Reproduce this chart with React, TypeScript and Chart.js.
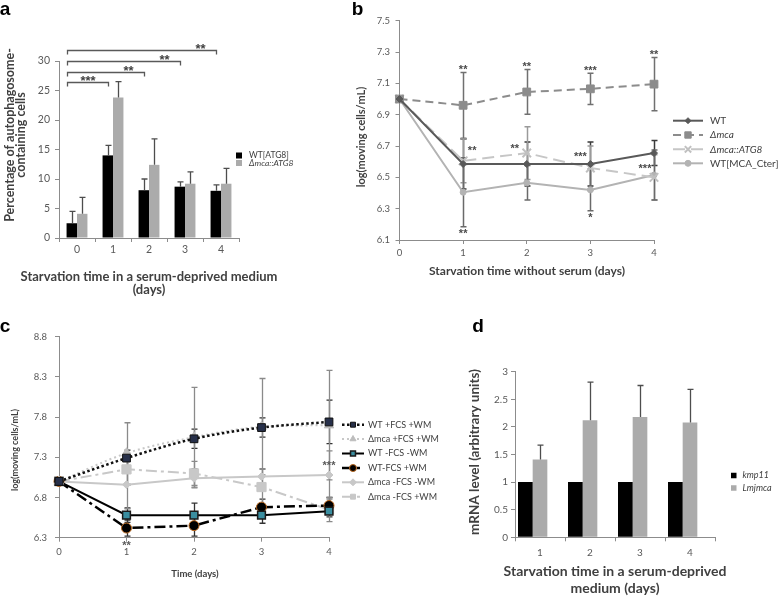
import React, { useEffect, useRef } from 'react';
import { Chart, registerables } from 'chart.js';

Chart.register(...registerables);

const W = 778;
const H = 597;
const FONT = 'Lato, "Open Sans", sans-serif';
const STARF = '"Liberation Sans", Arial, sans-serif';
const AX = '#8c8c8c';
const TICK = '#595959';
const TXT = '#404040';

// ---------- Panel a ----------
const aLabels = ['0', '1', '2', '3', '4'];
const aSeriesNames = ['WT[ATG8]', 'Δmca::ATG8'];
const aWT = [2.5, 14.0, 8.1, 8.7, 8.0];
const aWTErr = [2.0, 1.7, 1.9, 0.8, 1.0];
const aMca = [4.1, 23.8, 12.4, 9.2, 9.2];
const aMcaErr = [2.8, 2.7, 4.4, 2.0, 2.6];
const aBracketTo = [1, 2, 3, 4];
const aBracketLevel = [26.5, 28.2, 30.0, 31.9];
const aBracketStars = ['***', '**', '**', '**'];

// ---------- Panel b ----------
const bLabels = ['0', '1', '2', '3', '4'];
const bNames = ['WT', 'Δmca', 'Δmca::ATG8', 'WT[MCA_Cter]'];
const bWT = [7.0, 6.585, 6.585, 6.585, 6.655];
const bWTErr = [0, 0.16, 0.14, 0.14, 0.08];
const bMca = [7.0, 6.96, 7.045, 7.065, 7.095];
const bMcaErr = [0, 0.21, 0.143, 0.1, 0.17];
const bAtg = [7.0, 6.605, 6.655, 6.56, 6.5];
const bAtgErr = [0, 0.14, 0.168, 0.14, 0.145];
const bCter = [7.0, 6.405, 6.465, 6.42, 6.515];
const bCterErr = [0, 0.22, 0.11, 0.133, 0.16];
const bMcaStars = ['', '**', '**', '***', '**'];
const bAtgStars = ['', '**', '**', '***', '***'];
const bCterStars = ['', '**', '', '*', ''];

// ---------- Panel c ----------
const cLabels = ['0', '1', '2', '3', '4'];
const cNames = ['WT +FCS +WM', 'Δmca +FCS +WM', 'WT -FCS -WM', 'WT-FCS +WM', 'Δmca -FCS -WM', 'Δmca -FCS +WM'];
const cWTpp = [7.0, 7.29, 7.53, 7.67, 7.74];
const cWTppErr = [0, 0.1, 0.12, 0.12, 0.27];
const cMcapp = [7.0, 7.35, 7.55, 7.68, 7.7];
const cMcappErr = [0, 0.38, 0.62, 0.6, 0.68];
const cWTmm = [7.0, 6.58, 6.58, 6.58, 6.63];
const cWTmmErr = [0, 0.09, 0.15, 0.1, 0.07];
const cWTmp = [7.0, 6.42, 6.45, 6.68, 6.7];
const cWTmpErr = [0, 0.1, 0.13, 0.1, 0.1];
const cMcamm = [7.0, 6.96, 7.04, 7.06, 7.08];
const cMcammErr = [0, 0.3, 0.12, 0.1, 0.3];
const cMcamp = [7.0, 7.15, 7.1, 6.93, 6.65];
const cMcampErr = [0, 0.2, 0.15, 0.22, 0.15];

// ---------- Panel d ----------
const dLabels = ['1', '2', '3', '4'];
const dNames = ['kmp11', 'Lmjmca'];
const dKmp = [1, 1, 1, 1];
const dMca = [1.41, 2.12, 2.18, 2.08];
const dMcaErr = [0.26, 0.69, 0.57, 0.6];

// ---------- helpers ----------
type Err = { ds: number; err: number[]; color: string; cap: number; lw: number; both: boolean };
type Star = { ds: number; i: number; text: string; anchor: 'point' | 'top' | 'bottom'; dx: number; dy: number };
type Txt = { lines: string[]; x: number; y: number; font: string; color: string; rot?: number; lh: number; baseline?: CanvasTextBaseline; align?: CanvasTextAlign };
type Leg = { ds: number; x: number; y: number; font: string; kind: 'box' | 'line'; len: number; gap: number; mr?: number };
type Decor = { errs?: Err[]; errFirst?: boolean; stars?: Star[]; starFont?: string; starColor?: string; texts?: Txt[]; legend?: Leg[]; extra?: (c: any) => void };

function marker(ctx: CanvasRenderingContext2D, style: string, x: number, y: number, r: number, fill: string, stroke: string, lw: number) {
  ctx.save();
  ctx.setLineDash([]);
  ctx.fillStyle = fill;
  ctx.strokeStyle = stroke;
  ctx.lineWidth = lw;
  ctx.beginPath();
  if (style === 'rect') {
    const s = r * Math.SQRT1_2;
    ctx.rect(x - s, y - s, 2 * s, 2 * s);
  } else if (style === 'rectRot') {
    ctx.moveTo(x, y - r); ctx.lineTo(x + r, y); ctx.lineTo(x, y + r); ctx.lineTo(x - r, y); ctx.closePath();
  } else if (style === 'triangle') {
    ctx.moveTo(x, y - r); ctx.lineTo(x + r * 0.866, y + r * 0.5); ctx.lineTo(x - r * 0.866, y + r * 0.5); ctx.closePath();
  } else if (style === 'crossRot') {
    const s = r * Math.SQRT1_2;
    ctx.moveTo(x - s, y - s); ctx.lineTo(x + s, y + s); ctx.moveTo(x - s, y + s); ctx.lineTo(x + s, y - s);
    ctx.stroke();
    ctx.restore();
    return;
  } else {
    ctx.arc(x, y, r, 0, Math.PI * 2);
  }
  ctx.fill();
  if (lw > 0) ctx.stroke();
  ctx.restore();
}

function centeredText(ctx: CanvasRenderingContext2D, t: string, x: number, y: number, font: string, color: string) {
  ctx.save();
  ctx.font = font;
  ctx.fillStyle = color;
  ctx.textAlign = 'center';
  ctx.textBaseline = 'alphabetic';
  const m = ctx.measureText(t);
  ctx.fillText(t, x, y + (m.actualBoundingBoxAscent - m.actualBoundingBoxDescent) / 2);
  ctx.restore();
}

function drawText(ctx: CanvasRenderingContext2D, t: Txt) {
  ctx.save();
  ctx.translate(t.x, t.y);
  if (t.rot) ctx.rotate(t.rot);
  ctx.font = t.font;
  ctx.fillStyle = t.color;
  ctx.textAlign = t.align || 'center';
  ctx.textBaseline = t.baseline || 'middle';
  const n = t.lines.length;
  t.lines.forEach((s, i) => ctx.fillText(s, 0, (i - (n - 1) / 2) * t.lh));
  ctx.restore();
}

function drawErrs(chart: any, errs: Err[]) {
  const ctx = chart.ctx as CanvasRenderingContext2D;
  const ys = chart.scales.y;
  errs.forEach((e) => {
    const meta = chart.getDatasetMeta(e.ds);
    const vals = chart.data.datasets[e.ds].data as number[];
    ctx.save();
    ctx.strokeStyle = e.color;
    ctx.lineWidth = e.lw;
    ctx.setLineDash([]);
    meta.data.forEach((el: any, i: number) => {
      const d = e.err[i];
      if (!d) return;
      const x = Math.round(el.x) + 0.5;
      const v = vals[i];
      const yt = ys.getPixelForValue(v + d);
      const yb = e.both ? ys.getPixelForValue(v - d) : el.y;
      ctx.beginPath();
      ctx.moveTo(x, yb);
      ctx.lineTo(x, yt);
      ctx.moveTo(x - e.cap, yt);
      ctx.lineTo(x + e.cap, yt);
      if (e.both) {
        ctx.moveTo(x - e.cap, yb);
        ctx.lineTo(x + e.cap, yb);
      }
      ctx.stroke();
    });
    ctx.restore();
  });
}

function drawLegend(chart: any, items: Leg[]) {
  const ctx = chart.ctx as CanvasRenderingContext2D;
  items.forEach((it) => {
    const ds = chart.data.datasets[it.ds];
    if (it.kind === 'box') {
      ctx.fillStyle = ds.backgroundColor;
      ctx.fillRect(it.x, it.y - it.len / 2, it.len, it.len);
    } else {
      ctx.save();
      ctx.strokeStyle = ds.borderColor;
      ctx.lineWidth = ds.borderWidth;
      ctx.setLineDash(ds.borderDash || []);
      ctx.beginPath();
      ctx.moveTo(it.x, it.y);
      ctx.lineTo(it.x + it.len, it.y);
      ctx.stroke();
      ctx.restore();
      marker(ctx, ds.pointStyle, it.x + it.len / 2, it.y, it.mr ?? ds.pointRadius, ds.pointBackgroundColor || ds.borderColor, ds.pointBorderColor || ds.borderColor, ds.pointBorderWidth ?? 1);
    }
    ctx.save();
    ctx.font = it.font;
    ctx.fillStyle = TXT;
    ctx.textAlign = 'left';
    ctx.textBaseline = 'middle';
    ctx.fillText(ds.label, it.x + it.len + it.gap, it.y);
    ctx.restore();
  });
}

function decor(cfg: Decor) {
  return {
    id: 'decor',
    beforeDatasetsDraw(chart: any) {
      if (cfg.errFirst) drawErrs(chart, cfg.errs || []);
    },
    afterDatasetsDraw(chart: any) {
      if (!cfg.errFirst) drawErrs(chart, cfg.errs || []);
      if (cfg.extra) cfg.extra(chart);
      const ctx = chart.ctx as CanvasRenderingContext2D;
      const ys = chart.scales.y;
      (cfg.stars || []).forEach((s) => {
        if (!s.text) return;
        const el = chart.getDatasetMeta(s.ds).data[s.i];
        const v = chart.data.datasets[s.ds].data[s.i] as number;
        const e = (cfg.errs || []).find((x) => x.ds === s.ds);
        const d = e ? e.err[s.i] : 0;
        let y = el.y;
        if (s.anchor === 'top') y = ys.getPixelForValue(v + d);
        if (s.anchor === 'bottom') y = ys.getPixelForValue(v - d);
        centeredText(ctx, s.text, el.x + s.dx, y + s.dy, cfg.starFont || `12px ${STARF}`, cfg.starColor || TXT);
      });
      drawLegend(chart, cfg.legend || []);
      (cfg.texts || []).forEach((t) => drawText(ctx, t));
    },
  };
}

function yAxis(min: number, max: number, step: number, size: number, pad: number, width: number, fmt: (v: number) => string) {
  return {
    type: 'linear',
    min,
    max,
    ticks: { stepSize: step, font: { family: FONT, size }, color: TICK, padding: pad, callback: (v: any) => fmt(Number(v)) },
    grid: { drawOnChartArea: false, drawTicks: true, tickLength: 4, color: AX, lineWidth: 1 },
    border: { display: true, color: AX, width: 1 },
    afterFit: (s: any) => { s.width = width; },
  };
}

function xAxis(size: number, pad: number, height: number) {
  return {
    type: 'category',
    ticks: { font: { family: FONT, size }, color: TICK, padding: pad, maxRotation: 0, autoSkip: false },
    grid: { drawOnChartArea: false, drawTicks: true, tickLength: 4, color: AX, lineWidth: 1 },
    border: { display: true, color: AX, width: 1 },
    afterFit: (s: any) => { s.height = height; },
  };
}

const baseOpts = (padding: any) => ({
  responsive: false,
  animation: false,
  devicePixelRatio: 1,
  events: [],
  layout: { padding },
  plugins: { legend: { display: false }, tooltip: { enabled: false }, title: { display: false } },
});

const LETTER = 'bold 19px "Liberation Sans", Arial, sans-serif';
const ROT = -Math.PI / 2;

function buildA(canvas: HTMLCanvasElement) {
  const texts: Txt[] = [
    { lines: ['a'], x: 5, y: 15, font: LETTER, color: '#000', lh: 0, baseline: 'alphabetic' },
    { lines: ['Starvation time in a serum-deprived medium', '(days)'], x: 149, y: 283.5, font: `bold 13px ${FONT}`, color: TXT, lh: 13 },
    { lines: ['Percentage of autophagosome-', 'containing cells'], x: 15.5, y: 135, font: `bold 12.5px ${FONT}`, color: TXT, lh: 11.5, rot: ROT },
  ];
  return new Chart(canvas, {
    type: 'bar',
    data: {
      labels: aLabels,
      datasets: [
        { label: aSeriesNames[0], data: aWT, backgroundColor: '#000000', categoryPercentage: 0.58, barPercentage: 1 },
        { label: aSeriesNames[1], data: aMca, backgroundColor: '#ababab', categoryPercentage: 0.58, barPercentage: 1 },
      ],
    },
    options: {
      ...baseOpts({ left: 14, right: W - 239, top: 61, bottom: H - 238 - 25 }),
      scales: { x: xAxis(10.5, 1, 25), y: yAxis(0, 30, 5, 10.5, 5, 45, (v) => String(v)) },
    } as any,
    plugins: [
      decor({
        errs: [
          { ds: 0, err: aWTErr, color: '#4d4d4d', cap: 3, lw: 1.3, both: false },
          { ds: 1, err: aMcaErr, color: '#4d4d4d', cap: 3, lw: 1.3, both: false },
        ],
        texts,
        legend: [
          { ds: 0, x: 236, y: 155.5, font: `8.5px ${FONT}`, kind: 'box', len: 6, gap: 7 },
          { ds: 1, x: 236, y: 163, font: `italic 8.5px ${FONT}`, kind: 'box', len: 6, gap: 7 },
        ],
        extra: (chart: any) => {
          const ctx = chart.ctx as CanvasRenderingContext2D;
          const ys = chart.scales.y;
          const m0 = chart.getDatasetMeta(0);
          const b0 = m0.data[0];
          const xL = Math.round(b0.x - b0.width / 2) + 0.5;
          ctx.save();
          ctx.strokeStyle = '#595959';
          ctx.lineWidth = 1.3;
          aBracketTo.forEach((k, j) => {
            const xR = Math.round(m0.data[k].x) + 0.5;
            const y = Math.round(ys.getPixelForValue(aBracketLevel[j])) + 0.5;
            ctx.beginPath();
            ctx.moveTo(xL, y + 4);
            ctx.lineTo(xL, y);
            ctx.lineTo(xR, y);
            ctx.lineTo(xR, y + 4);
            ctx.stroke();
            centeredText(ctx, aBracketStars[j], j === 0 ? (xL + xR) / 2 : xR - 16, y - 4, `bold 13px ${STARF}`, '#404040');
          });
          ctx.restore();
        },
      }),
    ],
  });
}

function buildB(canvas: HTMLCanvasElement) {
  const texts: Txt[] = [
    { lines: ['b'], x: 357.5, y: 15, font: LETTER, color: '#000', lh: 0, baseline: 'alphabetic' },
    { lines: ['Starvation time without serum (days)'], x: 527, y: 271, font: `bold 12px ${FONT}`, color: TXT, lh: 12 },
    { lines: ['log(moving cells/mL)'], x: 361.5, y: 137, font: `bold 11px ${FONT}`, color: TXT, lh: 11, rot: ROT },
  ];
  const stars: Star[] = [];
  bMcaStars.forEach((t, i) => stars.push({ ds: 1, i, text: t, anchor: 'top', dx: 0, dy: -5 }));
  const atgOff = [[0, 0], [9, -12.5], [-12, -6.5], [-10, -13], [-9, -10.5]];
  bAtgStars.forEach((t, i) => stars.push({ ds: 2, i, text: t, anchor: 'point', dx: atgOff[i][0], dy: atgOff[i][1] }));
  bCterStars.forEach((t, i) => stars.push({ ds: 3, i, text: t, anchor: 'bottom', dx: 0, dy: 5 }));
  return new Chart(canvas, {
    type: 'line',
    data: {
      labels: bLabels,
      datasets: [
        { label: bNames[0], data: bWT, borderColor: '#595959', borderWidth: 2, pointStyle: 'rectRot', pointRadius: 3.5, pointBackgroundColor: '#595959', pointBorderColor: '#595959', pointBorderWidth: 1 },
        { label: bNames[1], data: bMca, borderColor: '#8c8c8c', borderWidth: 2, borderDash: [8, 5], pointStyle: 'rect', pointRadius: 5.5, pointBackgroundColor: '#8c8c8c', pointBorderColor: '#8c8c8c', pointBorderWidth: 1 },
        { label: bNames[2], data: bAtg, borderColor: '#c6c6c6', borderWidth: 2, borderDash: [12, 6], pointStyle: 'crossRot', pointRadius: 6, pointBackgroundColor: '#c0c0c0', pointBorderColor: '#c0c0c0', pointBorderWidth: 2 },
        { label: bNames[3], data: bCter, borderColor: '#b3b3b3', borderWidth: 2, pointStyle: 'circle', pointRadius: 3, pointBackgroundColor: '#b3b3b3', pointBorderColor: '#b3b3b3', pointBorderWidth: 1 },
      ],
    },
    options: {
      ...baseOpts({ left: 399.5 - 40, right: W - 654, top: 20.7, bottom: H - 240 - 25 }),
      scales: { x: xAxis(9.5, 3, 25), y: yAxis(6.1, 7.5, 0.2, 9.5, 5.5, 40, (v) => v.toFixed(1)) },
    } as any,
    plugins: [
      decor({
        errFirst: true,
        errs: [
          { ds: 0, err: bWTErr, color: '#3a3a3a', cap: 3, lw: 1.5, both: true },
          { ds: 1, err: bMcaErr, color: '#707070', cap: 3, lw: 1.5, both: true },
          { ds: 2, err: bAtgErr, color: '#9a9a9a', cap: 3, lw: 1.5, both: true },
          { ds: 3, err: bCterErr, color: '#6a6a6a', cap: 3, lw: 1.5, both: true },
        ],
        stars,
        starFont: `bold 11px ${STARF}`,
        starColor: '#4a4a4a',
        texts,
        legend: [
          { ds: 0, x: 673, y: 120.7, font: `10px ${FONT}`, kind: 'line', len: 30, gap: 7, mr: 3 },
          { ds: 1, x: 673, y: 135, font: `italic 10px ${FONT}`, kind: 'line', len: 30, gap: 7, mr: 4.5 },
          { ds: 2, x: 673, y: 149.3, font: `italic 10px ${FONT}`, kind: 'line', len: 30, gap: 7, mr: 4.5 },
          { ds: 3, x: 673, y: 163.3, font: `10px ${FONT}`, kind: 'line', len: 30, gap: 7, mr: 3 },
        ],
      }),
    ],
  });
}

function buildC(canvas: HTMLCanvasElement) {
  const texts: Txt[] = [
    { lines: ['c'], x: 5, y: 332, font: LETTER, color: '#000', lh: 0, baseline: 'alphabetic' },
    { lines: ['Time (days)'], x: 195, y: 574, font: `bold 9.5px ${FONT}`, color: TXT, lh: 10 },
    { lines: ['log(moving cells/mL)'], x: 15, y: 450, font: `bold 9px ${FONT}`, color: TXT, lh: 9, rot: ROT },
  ];
  const stars: Star[] = [
    { ds: 3, i: 1, text: '**', anchor: 'bottom', dx: 0, dy: 7 },
    { ds: 4, i: 4, text: '***', anchor: 'point', dx: 0, dy: -11 },
  ];
  const ly = [424.7, 439, 453.5, 468, 482.3, 496.7];
  return new Chart(canvas, {
    type: 'line',
    data: {
      labels: cLabels,
      datasets: [
        { label: cNames[0], data: cWTpp, borderColor: '#111111', borderWidth: 2.5, borderDash: [2.5, 2.5], cubicInterpolationMode: 'monotone', pointStyle: 'rect', pointRadius: 5.5, pointBackgroundColor: '#27304a', pointBorderColor: '#111111', pointBorderWidth: 1 },
        { label: cNames[1], data: cMcapp, borderColor: '#c8c8c8', borderWidth: 2, borderDash: [2, 3], cubicInterpolationMode: 'monotone', pointStyle: 'triangle', pointRadius: 5.5, pointBackgroundColor: '#bdbdbd', pointBorderColor: '#bdbdbd', pointBorderWidth: 1 },
        { label: cNames[2], data: cWTmm, borderColor: '#000000', borderWidth: 2, pointStyle: 'rect', pointRadius: 5.5, pointBackgroundColor: '#3a8ea0', pointBorderColor: '#1a1a1a', pointBorderWidth: 1.5 },
        { label: cNames[3], data: cWTmp, borderColor: '#000000', borderWidth: 2.5, borderDash: [11, 4, 3, 4], pointStyle: 'circle', pointRadius: 5, pointBackgroundColor: '#000000', pointBorderColor: '#b8651b', pointBorderWidth: 1 },
        { label: cNames[4], data: cMcamm, borderColor: '#c8c8c8', borderWidth: 2, pointStyle: 'rectRot', pointRadius: 4, pointBackgroundColor: '#c8c8c8', pointBorderColor: '#c8c8c8', pointBorderWidth: 1 },
        { label: cNames[5], data: cMcamp, borderColor: '#c8c8c8', borderWidth: 2, borderDash: [11, 4, 3, 4], pointStyle: 'rect', pointRadius: 6.5, pointBackgroundColor: '#c8c8c8', pointBorderColor: '#c8c8c8', pointBorderWidth: 1 },
      ],
    },
    options: {
      ...baseOpts({ left: 59 - 40, right: W - 329, top: 336.7, bottom: H - 537.7 - 25 }),
      scales: { x: xAxis(9.5, 5, 25), y: yAxis(6.3, 8.8, 0.5, 9.5, 8, 40, (v) => v.toFixed(1)) },
    } as any,
    plugins: [
      decor({
        errFirst: true,
        errs: [
          { ds: 0, err: cWTppErr, color: '#333333', cap: 3, lw: 1.3, both: true },
          { ds: 1, err: cMcappErr, color: '#8a8a8a', cap: 3, lw: 1.3, both: true },
          { ds: 2, err: cWTmmErr, color: '#333333', cap: 3, lw: 1.3, both: true },
          { ds: 3, err: cWTmpErr, color: '#333333', cap: 3, lw: 1.3, both: true },
          { ds: 4, err: cMcammErr, color: '#8a8a8a', cap: 3, lw: 1.3, both: true },
          { ds: 5, err: cMcampErr, color: '#8a8a8a', cap: 3, lw: 1.3, both: true },
        ],
        stars,
        starFont: `bold 11px ${STARF}`,
        starColor: '#5a5a5a',
        texts,
        legend: ly.map((y, i) => ({ ds: i, x: 342, y, font: `9px ${FONT}`, kind: 'line' as const, len: 22, gap: 4, mr: 3.5 })),
      }),
    ],
  });
}

function buildD(canvas: HTMLCanvasElement) {
  const texts: Txt[] = [
    { lines: ['d'], x: 478, y: 332, font: LETTER, color: '#000', lh: 0, baseline: 'alphabetic' },
    { lines: ['Starvation time in a serum-deprived', 'medium (days)'], x: 615, y: 579.5, font: `bold 14px ${FONT}`, color: TXT, lh: 17 },
    { lines: ['mRNA level (arbitrary units)'], x: 475, y: 452, font: `bold 13.5px ${FONT}`, color: TXT, lh: 13, rot: ROT },
  ];
  return new Chart(canvas, {
    type: 'bar',
    data: {
      labels: dLabels,
      datasets: [
        { label: dNames[0], data: dKmp, backgroundColor: '#000000', categoryPercentage: 0.88, barPercentage: 1 },
        { label: dNames[1], data: dMca, backgroundColor: '#ababab', categoryPercentage: 0.88, barPercentage: 1 },
        { label: '', data: dLabels.map(() => null), backgroundColor: 'rgba(0,0,0,0)', categoryPercentage: 0.88, barPercentage: 1 },
      ],
    },
    options: {
      ...baseOpts({ left: 515 - 40, right: W - 715, top: 371.7, bottom: H - 537.3 - 25 }),
      scales: { x: xAxis(10, 5, 25), y: yAxis(0, 3, 0.5, 10, 3, 40, (v) => String(v)) },
    } as any,
    plugins: [
      decor({
        errs: [{ ds: 1, err: dMcaErr, color: '#4d4d4d', cap: 3, lw: 1.3, both: false }],
        texts,
        legend: [
          { ds: 0, x: 731, y: 475.5, font: `italic 9px ${FONT}`, kind: 'box', len: 5.5, gap: 6 },
          { ds: 1, x: 731, y: 488, font: `italic 9px ${FONT}`, kind: 'box', len: 5.5, gap: 6 },
        ],
      }),
    ],
  });
}

export default function App() {
  const ra = useRef<HTMLCanvasElement>(null);
  const rb = useRef<HTMLCanvasElement>(null);
  const rc = useRef<HTMLCanvasElement>(null);
  const rd = useRef<HTMLCanvasElement>(null);
  useEffect(() => {
    const charts = [buildA(ra.current!), buildB(rb.current!), buildC(rc.current!), buildD(rd.current!)];
    return () => charts.forEach((c) => c.destroy());
  }, []);
  const cs: React.CSSProperties = { position: 'absolute', left: 0, top: 0 };
  return (
    <div style={{ position: 'absolute', left: 0, top: 0, width: W, height: H, background: '#fff', overflow: 'hidden' }}>
      <canvas ref={ra} width={W} height={H} style={cs} />
      <canvas ref={rb} width={W} height={H} style={cs} />
      <canvas ref={rc} width={W} height={H} style={cs} />
      <canvas ref={rd} width={W} height={H} style={cs} />
    </div>
  );
}
